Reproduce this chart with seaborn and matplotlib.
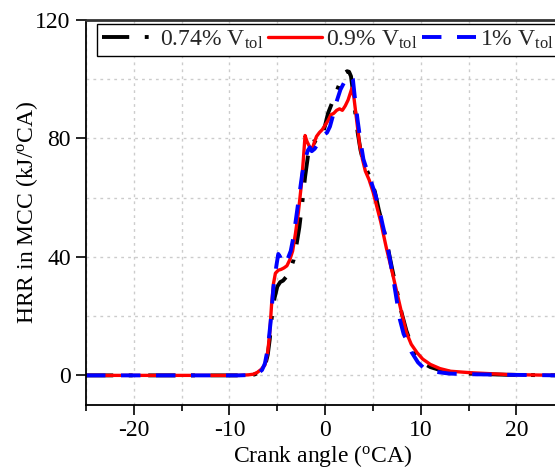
import numpy as np
import pandas as pd
import matplotlib
matplotlib.use("Agg")
import matplotlib.pyplot as plt
import seaborn as sns
from matplotlib.ticker import MultipleLocator

# ---- data ----
x_blk = [-25, -9, -8, -7.4, -7.0, -6.6, -6.3, -6.0, -5.8, -5.6, -5.3, -5.0, -4.7, -4.4, -4.0, -3.6,
         -3.3, -3.0, -2.7, -2.4, -2.1, -1.8, -1.5, -1.2, -0.9, -0.6, -0.3, 0.0, 0.3, 0.6, 0.9, 1.2,
         1.5, 1.8, 2.1, 2.3, 2.5, 2.7, 2.9, 3.1, 3.4, 3.7, 4.0, 4.4, 4.8, 5.2, 5.6, 6.0, 6.5, 7.0,
         7.5, 8.0, 8.5, 9.0, 9.5, 10.0, 10.5, 11.0, 12.0, 13.0, 15.0, 19.0, 24.5]
y_blk = [0, 0, 0.1, 0.3, 0.8, 1.5, 3, 7, 12, 19, 26, 30, 31.5, 32, 33.5, 36,
         39, 44, 50, 58, 67, 74, 78.5, 79, 78.5, 79, 81, 84.5, 88.5, 91, 93.5, 96,
         98.5, 100.5, 102.3, 102.7, 102.5, 101, 96, 90, 82, 76, 72, 69, 66, 62, 56, 51, 44, 36,
         28.5, 21, 15, 10.5, 7, 5, 3.7, 2.8, 1.8, 1.2, 0.6, 0.2, 0]

x_red = [-25, -9, -8, -7.5, -7.1, -6.7, -6.3, -6.0, -5.8, -5.6, -5.4, -5.2, -4.9, -4.6, -4.3, -4.0,
         -3.7, -3.4, -3.1, -2.8, -2.5, -2.3, -2.1, -1.9, -1.6, -1.4, -1.1, -0.9, -0.6, -0.3, 0.0,
         0.3, 0.6, 0.9, 1.2, 1.5, 1.8, 2.1, 2.4, 2.6, 2.8, 3.0, 3.3, 3.6, 3.9, 4.2, 4.6, 5.0, 5.4,
         5.8, 6.4, 7.0, 7.5, 8.0, 8.5, 9.0, 9.6, 10.2, 11.0, 12.0, 13.1, 15.2, 19.0, 24.5]
y_red = [0, 0, 0.2, 0.4, 1.0, 2.0, 3.5, 8, 14, 24, 31, 34.5, 35.5, 35.8, 36.3, 37,
         39, 42, 48, 55, 64, 72, 81, 79, 77, 76, 79, 80.7, 82, 83, 84.5,
         86, 88, 88.5, 89.5, 90, 89.5, 91, 93, 95, 97, 94, 86, 78, 73, 69, 66, 62, 57,
         52, 43, 35, 28, 21, 14.4, 10.5, 7.7, 5.5, 3.7, 2.3, 1.4, 0.9, 0.3, 0]

x_blu = [-25, -9, -8, -7.4, -7.0, -6.6, -6.3, -6.0, -5.7, -5.4, -5.1, -4.9, -4.7, -4.5, -4.2, -3.9,
         -3.6, -3.3, -3.0, -2.7, -2.4, -2.1, -1.8, -1.6, -1.4, -1.1, -0.8, -0.5, -0.2, 0.2, 0.5,
         0.8, 1.2, 1.6, 2.0, 2.3, 2.6, 2.9, 3.1, 3.4, 3.7, 4.0, 4.4, 4.8, 5.2, 5.6, 6.0, 6.5, 7.0,
         7.4, 7.8, 8.2, 8.5, 9.0, 9.7, 10.3, 11.0, 12.0, 13.0, 15.0, 19.0, 24.5]
y_blu = [0, 0, 0.1, 0.3, 0.8, 1.8, 4, 9, 18, 30, 37, 41, 40, 37.5, 38, 39.5,
         42, 47, 54, 61, 68, 73, 76, 77, 75.7, 76.5, 78, 80, 81, 82, 84,
         87.5, 92.5, 96.5, 99, 100.5, 101.5, 100, 94, 86, 79, 73, 69, 65.5, 61.5, 57, 51, 44, 35,
         27, 19, 14, 12, 8, 4.4, 2.5, 1.5, 1.0, 0.6, 0.4, 0.2, 0]

labels = [r"0.74% V$_{\mathrm{tol}}$", r"0.9% V$_{\mathrm{tol}}$", r"1% V$_{\mathrm{tol}}$"]
x_ticks = [-20, -10, 0, 10, 20]
y_ticks = [0, 40, 80, 120]

sns.set_theme(style="ticks")
plt.rcParams["font.family"] = ["Liberation Serif", "DejaVu Serif"]
plt.rcParams["mathtext.fontset"] = "custom"
plt.rcParams["mathtext.rm"] = "Liberation Serif"
plt.rcParams["mathtext.it"] = "Liberation Serif:italic"
plt.rcParams["mathtext.bf"] = "Liberation Serif:bold"
plt.rcParams["axes.unicode_minus"] = False

fig = plt.figure(figsize=(5.55, 4.72), dpi=100)
W, H = 555, 472
ax = fig.add_axes([86 / W, 67 / H, 474 / W, 385 / H])

df_b = pd.DataFrame({"x": x_blk, "y": y_blk})
df_r = pd.DataFrame({"x": x_red, "y": y_red})
df_u = pd.DataFrame({"x": x_blu, "y": y_blu})

sns.lineplot(data=df_b, x="x", y="y", ax=ax, color="black", lw=2.8, label=labels[0],
             dashes=False, sort=False)
ax.lines[-1].set_dashes((7, 4, 1, 4))
sns.lineplot(data=df_r, x="x", y="y", ax=ax, color="#ff0000", lw=2.4, label=labels[1], sort=False)
sns.lineplot(data=df_u, x="x", y="y", ax=ax, color="#0000ff", lw=2.8, label=labels[2], sort=False)
ax.lines[-1].set_dashes((5, 4))

ax.set_xlim(-25, 24.55)
ax.set_ylim(-10, 120)
ax.set_xticks(x_ticks)
ax.set_yticks(y_ticks)
ax.xaxis.set_minor_locator(MultipleLocator(5))
ax.yaxis.set_minor_locator(MultipleLocator(20))
ax.grid(True, which="both", ls=(0, (2, 3)), color="#cccccc", lw=1)
ax.set_axisbelow(True)
ax.tick_params(axis="both", which="major", direction="out", length=7, width=1.2,
               labelsize=17, color="black", labelcolor="black", pad=4)
ax.tick_params(axis="x", which="minor", direction="out", length=4, width=1.2, color="black")
ax.tick_params(axis="y", which="minor", length=0)

for s in ["left", "bottom"]:
    ax.spines[s].set_color("black")
    ax.spines[s].set_linewidth(1.3)
ax.spines["top"].set_color("#333333")
ax.spines["top"].set_linewidth(2)
ax.spines["right"].set_visible(False)

ax.set_xlabel(r"Crank angle ($^{\mathrm{o}}$CA)", fontsize=17, color="black", labelpad=1)
ax.set_ylabel(r"HRR in MCC (kJ/$^{\mathrm{o}}$CA)", fontsize=17, color="black", labelpad=-3)

leg = ax.legend(ncol=3, loc="upper left", bbox_to_anchor=(0.024, 0.99), borderaxespad=0,
                fontsize=17, frameon=True, fancybox=False, edgecolor="black",
                handlelength=2.3, handletextpad=0.15, columnspacing=0.2,
                borderpad=0.2, framealpha=1)
leg.get_frame().set_linewidth(1.0)

fig.savefig("out.png", dpi=100)
